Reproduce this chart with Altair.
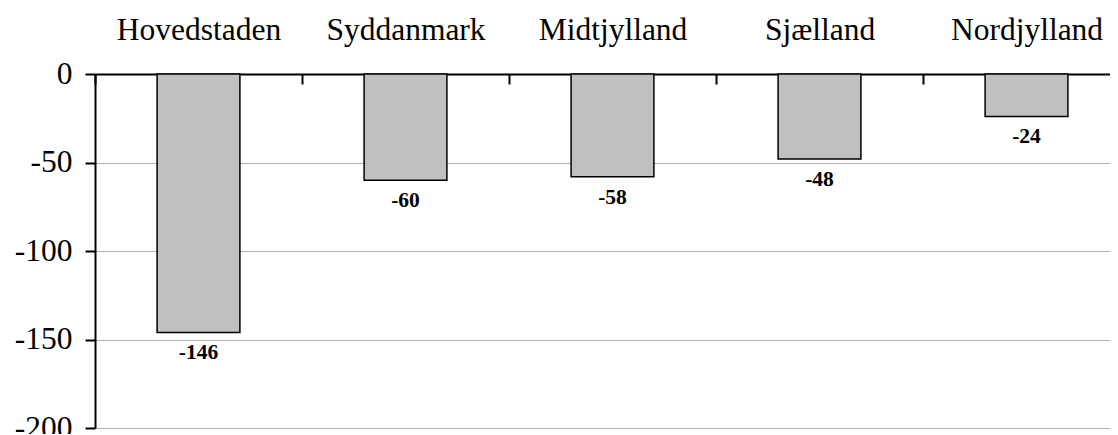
import altair as alt
import pandas as pd

regions = ["Hovedstaden", "Syddanmark", "Midtjylland", "Sjælland", "Nordjylland"]
values = [-146, -60, -58, -48, -24]
y_ticks = [0, -50, -100, -150, -200]

df = pd.DataFrame({"region": regions, "value": values})

FONT = "Liberation Serif"

x = alt.X(
    "region:N",
    sort=regions,
    title=None,
    scale=alt.Scale(range=[0, 1035], paddingInner=0, paddingOuter=0),
    axis=alt.Axis(
        orient="top",
        domain=False,
        ticks=True,
        tickBand="extent",
        tickSize=10,
        tickWidth=2,
        tickColor="black",
        offset=-10,
        labelPadding=28,
        labelFont=FONT,
        labelFontSize=31.5,
        labelColor="black",
        labelAngle=0,
        grid=False,
    ),
)

y = alt.Y(
    "value:Q",
    scale=alt.Scale(domain=[-200, 0], nice=False),
    axis=alt.Axis(
        values=y_ticks,
        title=None,
        labelExpr="toString(datum.value)",
        domainColor="black",
        domainWidth=2,
        tickColor="black",
        tickWidth=2,
        tickSize=10,
        labelFont=FONT,
        labelFontSize=31.5,
        labelColor="black",
        labelPadding=13,
        grid=True,
        gridColor={"condition": {"test": "datum.value === 0", "value": "black"}, "value": "#b0b0b0"},
        gridWidth={"condition": {"test": "datum.value === 0", "value": 2}, "value": 1},
    ),
)

bars = alt.Chart(df).mark_bar(
    width=alt.RelativeBandSize(0.4), color="#c0c0c0", stroke="black", strokeWidth=1.5
).encode(x=x, y=y)

labels = alt.Chart(df).transform_calculate(
    label="toString(datum.value)"
).mark_text(
    baseline="middle", dy=21, font=FONT, fontSize=21.5, fontWeight="bold", color="black"
).encode(x=alt.X("region:N", sort=regions), y="value:Q", text="label:N")

chart = (
    alt.layer(bars, labels)
    .properties(
        width=1015,
        height=354,
        autosize="none",
        padding={"left": 87, "top": 66, "right": 0, "bottom": 6},
    )
    .configure_view(stroke=None)
)

chart.save("out.html", embed_options={"renderer": "svg", "actions": False})
